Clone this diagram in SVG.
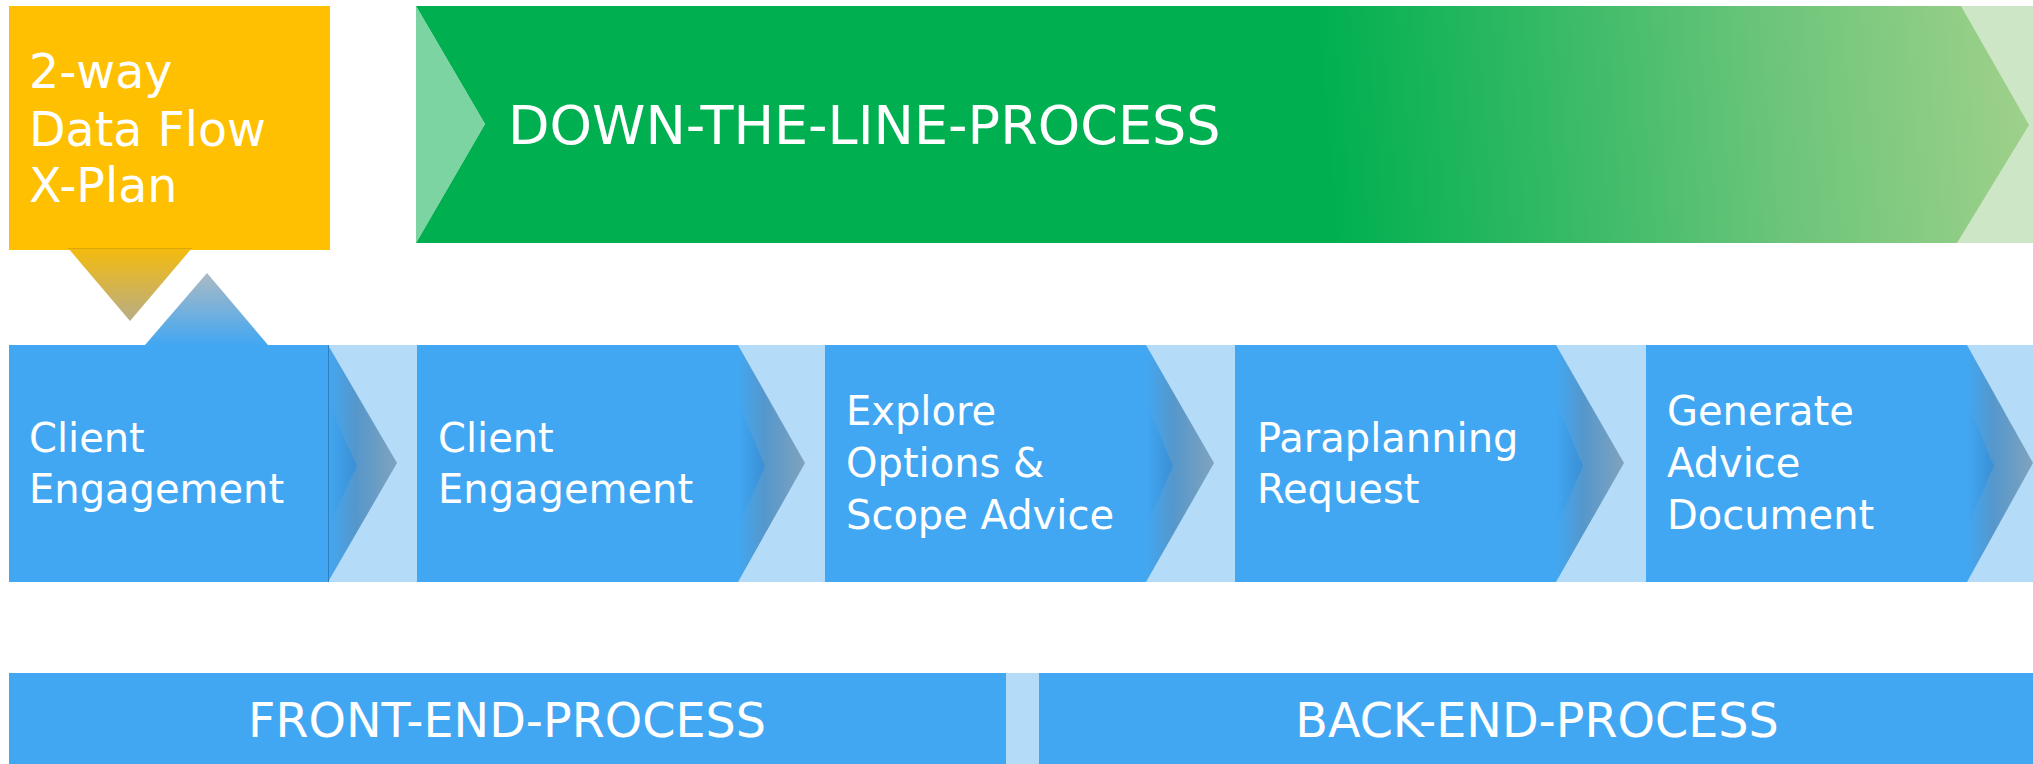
<svg xmlns="http://www.w3.org/2000/svg" width="2033" height="764" viewBox="0 0 2033 764">
  <defs>
    <linearGradient id="gGreen" gradientUnits="userSpaceOnUse" x1="1320" y1="60" x2="2010" y2="0">
      <stop offset="0" stop-color="#00b050"/>
      <stop offset="0.28" stop-color="#2db862"/>
      <stop offset="0.65" stop-color="#6cc57a"/>
      <stop offset="1" stop-color="#9dd08a"/>
    </linearGradient>
    <linearGradient id="gYelTri" x1="0" y1="0" x2="0" y2="1">
      <stop offset="0" stop-color="#f4bb0c"/>
      <stop offset="1" stop-color="#b7ad88"/>
    </linearGradient>
    <linearGradient id="gBlueTri" x1="0" y1="0" x2="0" y2="1">
      <stop offset="0" stop-color="#abbac4"/>
      <stop offset="1" stop-color="#42a7f2"/>
    </linearGradient>
    <linearGradient id="gChevOuter" x1="0" y1="0" x2="1" y2="0">
      <stop offset="0" stop-color="#42a7f2"/>
      <stop offset="0.4" stop-color="#5597cc"/>
      <stop offset="1" stop-color="#80a3bd"/>
    </linearGradient>
    <linearGradient id="gChevInner" x1="0" y1="0" x2="1" y2="0">
      <stop offset="0" stop-color="#42a7f2"/>
      <stop offset="1" stop-color="#3a8fd4"/>
    </linearGradient>
    <style>
      .box { fill: #42a7f2; }
      .band { fill: #b4dbf7; }
      .lbl { font-family: "DejaVu Sans", "Liberation Sans", sans-serif; fill: #ffffff; font-size: 40px; }
      .ylbl { font-family: "DejaVu Sans", "Liberation Sans", sans-serif; fill: #ffffff; font-size: 47.5px; }
      .head { font-family: "DejaVu Sans", "Liberation Sans", sans-serif; fill: #ffffff; font-size: 54px; }
      .foot { font-family: "DejaVu Sans", "Liberation Sans", sans-serif; fill: #ffffff; font-size: 47.6px; text-anchor: middle; }
      .chevO { fill: url(#gChevOuter); }
      .chevI { fill: url(#gChevInner); }
    </style>
  </defs>

  <rect width="2033" height="764" fill="#ffffff"/>

  <!-- Yellow node -->
  <g id="node-xplan">
    <rect x="9" y="6" width="321" height="244" fill="#fec000"/>
    <text class="ylbl" x="29" y="88">2-way</text>
    <text class="ylbl" x="29" y="146">Data Flow</text>
    <text class="ylbl" x="29" y="202">X-Plan</text>
  </g>

  <!-- Green banner -->
  <g id="node-down-the-line">
    <rect x="416" y="6" width="1617" height="237" fill="#cde7c6"/>
    <polygon points="416,6 1961,6 2029,125 1957,243 416,243 485,124" fill="url(#gGreen)"/>
    <polygon points="416,6 485,124 416,243" fill="#7dd4a3"/>
    <text class="head" x="508" y="144">DOWN-THE-LINE-PROCESS</text>
  </g>

  <!-- Light bands between process boxes -->
  <g id="bands">
    <rect class="band" x="328" y="345" width="90" height="237"/>
    <rect class="band" x="737" y="345" width="89" height="237"/>
    <rect class="band" x="1145" y="345" width="91" height="237"/>
    <rect class="band" x="1555" y="345" width="92" height="237"/>
    <rect class="band" x="1966" y="345" width="67" height="237"/>
  </g>

  <!-- Process boxes -->
  <g id="node-client-engagement-1">
    <rect class="box" x="9" y="345" width="319" height="237"/>
    <text class="lbl" x="29" y="452">Client</text>
    <text class="lbl" x="29" y="503">Engagement</text>
  </g>
  <g id="node-client-engagement-2">
    <rect class="box" x="417" y="345" width="321" height="237"/>
    <text class="lbl" x="438" y="452">Client</text>
    <text class="lbl" x="438" y="503">Engagement</text>
  </g>
  <g id="node-explore-options">
    <rect class="box" x="825" y="345" width="321" height="237"/>
    <text class="lbl" x="846" y="425">Explore</text>
    <text class="lbl" x="846" y="477">Options &amp;</text>
    <text class="lbl" x="846" y="529">Scope Advice</text>
  </g>
  <g id="node-paraplanning">
    <rect class="box" x="1235" y="345" width="321" height="237"/>
    <text class="lbl" x="1257" y="452">Paraplanning</text>
    <text class="lbl" x="1257" y="503">Request</text>
  </g>
  <g id="node-generate-advice">
    <rect class="box" x="1646" y="345" width="321" height="237"/>
    <text class="lbl" x="1667" y="425">Generate</text>
    <text class="lbl" x="1667" y="477">Advice</text>
    <text class="lbl" x="1667" y="529">Document</text>
  </g>

  <!-- Connectors: 2-way triangles and chevrons -->
  <g id="connectors">
    <polygon points="68,248 192,248 130,321" fill="url(#gYelTri)"/>
    <line x1="68" y1="248.5" x2="192" y2="248.5" stroke="#d9a70a" stroke-width="1"/>
    <polygon points="207,273 268,345 145,345" fill="url(#gBlueTri)"/>

    <polygon class="chevO" points="328,345 397,463 328,582"/>
    <polygon class="chevI" points="328,402 357,466 328,527"/>
    <line x1="328.5" y1="345" x2="328.5" y2="582" stroke="#2f7fbf" stroke-width="1"/>

    <polygon class="chevO" points="738,345 805,463 738,582"/>
    <polygon class="chevI" points="738,402 765,466 738,527"/>

    <polygon class="chevO" points="1146,345 1214,463 1146,582"/>
    <polygon class="chevI" points="1146,402 1173,466 1146,527"/>

    <polygon class="chevO" points="1556,345 1624,463 1556,582"/>
    <polygon class="chevI" points="1556,402 1583,466 1556,527"/>

    <polygon class="chevO" points="1967,345 2033,463 1967,582"/>
    <polygon class="chevI" points="1967,402 1994,466 1967,527"/>
  </g>

  <!-- Bottom process bars -->
  <g id="node-front-end">
    <rect x="9" y="673" width="1031" height="91" fill="#b4dbf7"/>
    <rect class="box" x="9" y="673" width="997" height="91"/>
    <text class="foot" x="507" y="737">FRONT-END-PROCESS</text>
  </g>
  <g id="node-back-end">
    <rect class="box" x="1039" y="673" width="994" height="91"/>
    <text class="foot" x="1537" y="737">BACK-END-PROCESS</text>
  </g>
</svg>
